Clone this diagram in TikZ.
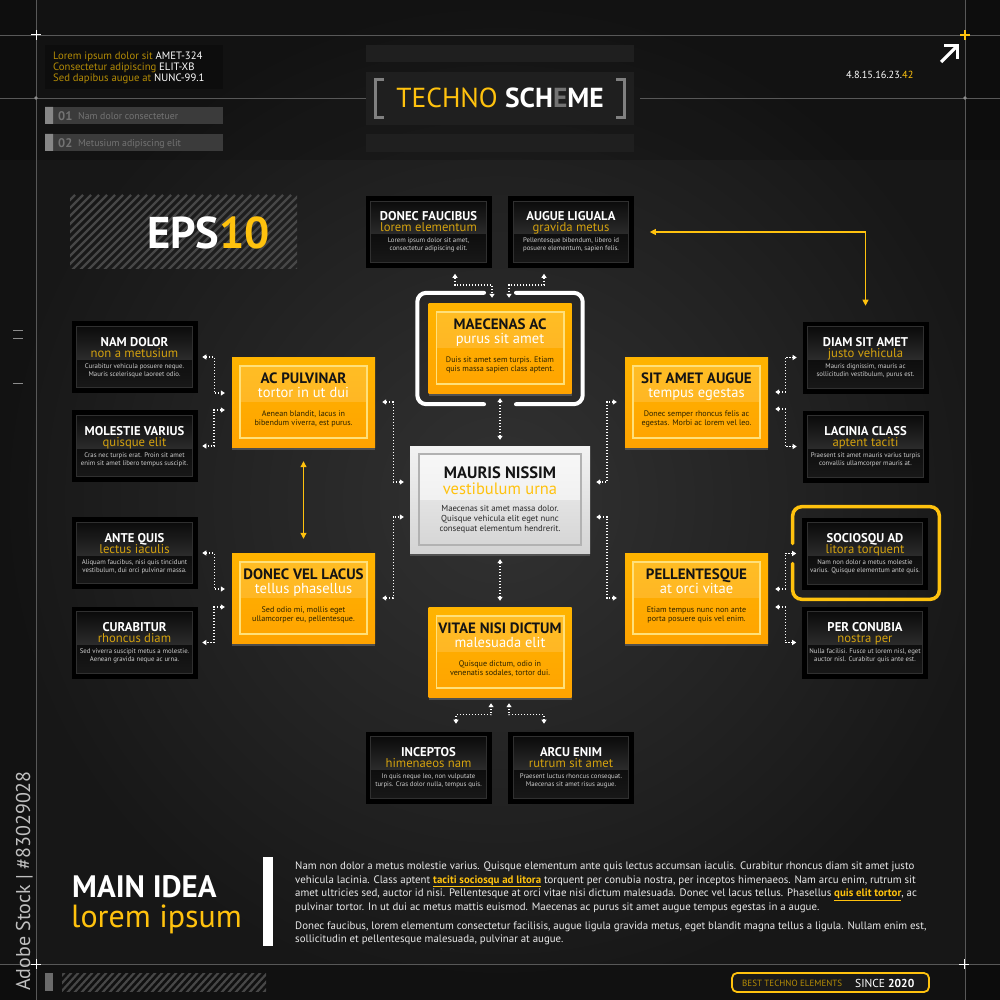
\documentclass[tikz,border=0pt]{standalone}
\usepackage{fontspec}
\setmainfont{PT Sans}
\usetikzlibrary{arrows.meta,calc,shadows}
\definecolor{bgin}{HTML}{323232}
\definecolor{bgout}{HTML}{171717}
\definecolor{gold}{HTML}{D4A20F}
\definecolor{goldd}{HTML}{B48C06}
\definecolor{yel}{HTML}{FFC20E}
\definecolor{ytop}{HTML}{FFB400}
\definecolor{ymid}{HTML}{FFC814}
\definecolor{ybot}{HTML}{FFA300}
\definecolor{yline}{HTML}{FFE07A}
\definecolor{guide}{HTML}{585858}
\definecolor{bodyg}{HTML}{CFCFCF}
\definecolor{hatchc}{HTML}{474747}
\definecolor{bbA}{HTML}{0B0B0B}
\definecolor{bbB}{HTML}{2C2C2C}
\definecolor{bbC}{HTML}{0E0E0E}
\definecolor{bbD}{HTML}{181818}
\definecolor{bbL}{HTML}{303030}
\definecolor{ybody}{HTML}{2B2200}
\newcommand{\lnk}[1]{\textcolor{yel}{\bfseries\underline{#1}}}
\tikzset{
  bbox/.style={fill=black, draw=black, line width=0.6pt, minimum width=125, minimum height=71, inner sep=0},
  ybox/.style={minimum width=143, minimum height=90, inner sep=0, top color=ytop, middle color=ymid, bottom color=ybot,
     drop shadow={shadow xshift=0pt, shadow yshift=-3pt, opacity=0.45}},
  wbox/.style={minimum width=180, minimum height=107, inner sep=0, top color=black!5, middle color=white, bottom color=black!17,
     drop shadow={shadow xshift=0pt, shadow yshift=-3pt, opacity=0.45}},
  txt/.style={inner sep=0, anchor=base},
  btitle/.style={txt, font=\fontsize{12.7}{12}\selectfont\bfseries, text=white},
  bsub/.style={txt, font=\fontsize{12.7}{12}\selectfont, text=gold},
  bbody/.style={txt, font=\fontsize{6.8}{7}\selectfont, text=bodyg},
  ytitle/.style={txt, font=\fontsize{15}{15}\selectfont\bfseries, text=black!92},
  ysub/.style={txt, font=\fontsize{14.5}{14}\selectfont, text=white},
  ybodyst/.style={txt, font=\fontsize{8.1}{8}\selectfont, text=ybody},
  conn/.style={draw=white, line width=1.4pt, dash pattern=on 1.4pt off 1.6pt, >={Triangle[length=4pt,width=5pt]}, <->},
  yconn/.style={draw=yel, line width=1.1pt, >={Triangle[length=6pt,width=6pt]}, <->},
  para/.style={inner sep=0, anchor=base west, font=\fontsize{10.85}{13}\selectfont, text=black!8},
}
\newcommand{\bbx}[7]{%
  \node[bbox] (#1) at (#2,#3) {};
  \shade[top color=bbA, bottom color=bbB] ([shift={(5pt,-5pt)}]#1.north west) rectangle ([shift={(-5pt,-3pt)}]#1.east);
  \shade[top color=bbC, bottom color=bbD] ([shift={(5pt,-3pt)}]#1.west) rectangle ([shift={(-5pt,5pt)}]#1.south east);
  \draw[bbL, line width=0.8pt] ([shift={(5pt,-5pt)}]#1.north west) rectangle ([shift={(-5pt,5pt)}]#1.south east);
  \node[btitle] (#1-t) at ([yshift=11pt]#1.center) {#4};
  \node[bsub] (#1-s) at (#1.center) {#5};
  \node[bbody] (#1-a) at ([yshift=-11pt]#1.center) {#6};
  \node[bbody] (#1-b) at ([yshift=-19pt]#1.center) {#7};
}
\newcommand{\ybx}[7]{%
  \node[ybox] (#1) at (#2,#3) {};
  \fill[white, opacity=0.14] ([shift={(8pt,-9pt)}]#1.north west) rectangle ([xshift=-8pt]#1.east);
  \draw[yline, line width=1.6pt] ([shift={(8pt,-9pt)}]#1.north west) rectangle ([shift={(-8pt,9pt)}]#1.south east);
  \node[ytitle] (#1-t) at ([yshift=18.5pt]#1.center) {#4};
  \node[ysub] (#1-s) at ([yshift=4.5pt]#1.center) {#5};
  \node[ybodyst] (#1-a) at ([yshift=-14pt]#1.center) {#6};
  \node[ybodyst] (#1-b) at ([yshift=-23.3pt]#1.center) {#7};
}
\begin{document}
\begin{tikzpicture}[x=1pt,y=-1pt]
\useasboundingbox (0,0) rectangle (1000,1000);
% background
\shade[inner color=bgin, outer color=bgout] (0,0) rectangle (1000,1000);
\fill[black, opacity=0.18] (0,0) rectangle (1000,160);
\fill[black, opacity=0.25] (0,964) rectangle (1000,1000);
\fill[black, opacity=0.2] (0,0) rectangle (36,1000);
\fill[black, opacity=0.25] (965,0) rectangle (1000,1000);
% guides
\draw[guide, line width=0.7pt] (0,35) -- (1000,35) (0,964) -- (1000,964) (36,0) -- (36,1000) (965,0) -- (965,1000)
  (0,98) -- (366,98) (640,98) -- (1000,98);
\fill[black!45] (36,98) circle (1.8) (965,98) circle (1.8);
\draw[white, line width=1pt] (31,35) -- (41,35) (36,30) -- (36,40) (31,964) -- (41,964) (36,959) -- (36,969)
  (959,964) -- (969,964) (964,959) -- (964,969);
\draw[yel, line width=1.2pt] (960,35) -- (970,35) (965,30) -- (965,40);
\draw[black!45, line width=1pt] (13,330) -- (23,330) (13,338.5) -- (23,338.5) (13,383) -- (23,383);
% top-left info
\node[fill=black!95, minimum width=178, minimum height=44, anchor=north west, inner sep=0] (info) at (45,45) {};
\node[inner sep=0, anchor=base west, font=\fontsize{10.7}{11}\selectfont, text=white] (info1) at (53,59.5) {\textcolor{goldd}{Lorem ipsum dolor sit} AMET-324};
\node[inner sep=0, anchor=base west, font=\fontsize{10.7}{11}\selectfont, text=white] (info2) at (53,70.8) {\textcolor{goldd}{Consectetur adipiscing} ELIT-XB};
\node[inner sep=0, anchor=base west, font=\fontsize{10.7}{11}\selectfont, text=white] (info3) at (53,82) {\textcolor{goldd}{Sed dapibus augue at} NUNC-99.1};
\node[fill=black!77, minimum width=178, minimum height=17, anchor=north west, inner sep=0] (bar1) at (45,107) {};
\node[fill=black!77, minimum width=178, minimum height=17, anchor=north west, inner sep=0] (bar2) at (45,134) {};
\fill[black!47] (45,107) rectangle (53,124) (45,134) rectangle (53,151);
\node[inner sep=0, anchor=base west, font=\fontsize{12.5}{12}\selectfont\bfseries, text=black!55] (n01) at (58,120.5) {01};
\node[inner sep=0, anchor=base west, font=\fontsize{9.8}{10}\selectfont, text=black!55] (t01) at (78,119.5) {Nam dolor consectetuer};
\node[inner sep=0, anchor=base west, font=\fontsize{12.5}{12}\selectfont\bfseries, text=black!55] (n02) at (58,147.5) {02};
\node[inner sep=0, anchor=base west, font=\fontsize{9.8}{10}\selectfont, text=black!55] (t02) at (78,146.5) {Metusium adipiscing elit};
% title
\node[fill=black!88, minimum width=268, minimum height=17, inner sep=0] (ttop) at (500,53.5) {};
\node[fill=black!88, minimum width=268, minimum height=53, inner sep=0] (tbox) at (500,98.5) {};
\node[fill=black!88, minimum width=268, minimum height=18, inner sep=0] (tbot) at (500,143) {};
\draw[black!50, line width=3pt] (384,79.5) -- (375.5,79.5) -- (375.5,117.5) -- (384,117.5);
\draw[black!50, line width=3pt] (616,79.5) -- (624.5,79.5) -- (624.5,117.5) -- (616,117.5);
\node[txt, font=\fontsize{27.5}{27}\selectfont] (title) at (500,108)
  {\textcolor{yel}{TECHNO} \textcolor{white}{\bfseries SCH}\textcolor{black!55}{\bfseries E}\textcolor{white}{\bfseries ME}};
% top right
\draw[white, line width=3.2pt] (941,62) -- (956.5,46.5);
\draw[white, line width=3.2pt, line join=miter] (944,45.5) -- (957.5,45.5) -- (957.5,59);
\node[inner sep=0, anchor=base west, font=\fontsize{10.3}{11}\selectfont, text=white] (nums) at (846,79) {4.8.15.16.23.\textcolor{yel}{42}};
% EPS hatch
\begin{scope}
\clip (70,195) rectangle (297,268);
\foreach \i in {-80,-72,...,300} \draw[hatchc, line width=2.2pt] (70+\i,272) -- (147+\i,195);
\end{scope}
\node[inner sep=0, anchor=base west, font=\fontsize{44.5}{44}\selectfont\bfseries, text=white] (eps) at (147,248) {EPS\textcolor{yel}{10}};
% boxes
\bbx{dfa}{428.5}{232}{DONEC FAUCIBUS}{lorem elementum}{Lorem ipsum dolor sit amet,}{consectetur adipiscing elit.}
\bbx{aug}{571}{232}{AUGUE LIGUALA}{gravida metus}{Pellentesque bibendum, libero id}{posuere elementum, sapien felis.}
\bbx{nam}{134.5}{357}{NAM DOLOR}{non a metusium}{Curabitur vehicula posuere neque.}{Mauris scelerisque laoreet odio.}
\bbx{mol}{134.5}{446}{MOLESTIE VARIUS}{quisque elit}{Cras nec turpis erat. Proin sit amet}{enim sit amet libero tempus suscipit.}
\bbx{ante}{134.5}{553}{ANTE QUIS}{lectus iaculis}{Aliquam faucibus, nisi quis tincidunt}{vestibulum, dui orci pulvinar massa.}
\bbx{cur}{134.5}{642.5}{CURABITUR}{rhoncus diam}{Sed viverra suscipit metus a molestie.}{Aenean gravida neque ac urna.}
\bbx{diam}{865.5}{357.5}{DIAM SIT AMET}{justo vehicula}{Mauris dignissim, mauris ac}{sollicitudin vestibulum, purus est.}
\bbx{lac}{865.5}{446.5}{LACINIA CLASS}{aptent taciti}{Praesent sit amet mauris varius turpis}{convallis ullamcorper mauris at.}
\bbx{soc}{865}{553.5}{SOCIOSQU AD}{litora torquent}{Nam non dolor a metus molestie}{varius. Quisque elementum ante quis.}
\bbx{per}{865}{642.5}{PER CONUBIA}{nostra per}{Nulla facilisi. Fusce ut lorem nisl, eget}{auctor nisl. Curabitur quis ante est.}
\bbx{inc}{428.5}{767.5}{INCEPTOS}{himenaeos nam}{In quis neque leo, non vulputate}{turpis. Cras dolor nulla, tempus quis.}
\bbx{arcu}{571}{767.5}{ARCU ENIM}{rutrum sit amet}{Praesent luctus rhoncus consequat.}{Maecenas sit amet risus augue.}
\ybx{mae}{500}{348}{MAECENAS AC}{purus sit amet}{Duis sit amet sem turpis. Etiam}{quis massa sapien class aptent.}
\ybx{acp}{303.5}{402}{AC PULVINAR}{tortor in ut dui}{Aenean blandit, lacus in}{bibendum viverra, est purus.}
\ybx{sit}{696.5}{402}{SIT AMET AUGUE}{tempus egestas}{Donec semper rhoncus felis ac}{egestas. Morbi ac lorem vel leo.}
\ybx{dvl}{303.5}{598}{DONEC VEL LACUS}{tellus phasellus}{Sed odio mi, mollis eget}{ullamcorper eu, pellentesque.}
\ybx{pel}{696.5}{598}{PELLENTESQUE}{at orci vitae}{Etiam tempus nunc non ante}{porta posuere quis vel enim.}
\ybx{vit}{500}{652}{VITAE NISI DICTUM}{malesuada elit}{Quisque dictum, odio in}{venenatis sodales, tortor dui.}
% center white box
\node[wbox] (mau) at (500,499.5) {};
\fill[white, opacity=0.5] ([shift={(9pt,-8pt)}]mau.north west) rectangle ([xshift=-9pt]mau.east);
\draw[black!30, line width=1.5pt] ([shift={(9pt,-8pt)}]mau.north west) rectangle ([shift={(-9pt,8pt)}]mau.south east);
\node[txt, font=\fontsize{16.5}{16}\selectfont\bfseries, text=black!92] (mau-t) at ([yshift=21pt]mau.center) {MAURIS NISSIM};
\node[txt, font=\fontsize{16.5}{16}\selectfont, text=yel] (mau-s) at ([yshift=5pt]mau.center) {vestibulum urna};
\node[txt, font=\fontsize{8.7}{9}\selectfont, text=black!85] (mau-a) at ([yshift=-11.5pt]mau.center) {Maecenas sit amet massa dolor.};
\node[txt, font=\fontsize{8.7}{9}\selectfont, text=black!85] (mau-b) at ([yshift=-21.8pt]mau.center) {Quisque vehicula elit eget nunc};
\node[txt, font=\fontsize{8.7}{9}\selectfont, text=black!85] (mau-c) at ([yshift=-32.2pt]mau.center) {consequat elementum hendrerit.};
% frames
\draw[white, line width=4pt, rounded corners=9pt, line cap=round] ([shift={(-16pt,10pt)}]mae.north) -| ([shift={(-11pt,-11pt)}]mae.south west) -- ([shift={(-16pt,-11pt)}]mae.south);
\draw[white, line width=4pt, rounded corners=9pt, line cap=round] ([shift={(16pt,10pt)}]mae.north) -| ([shift={(11pt,-11pt)}]mae.south east) -- ([shift={(16pt,-11pt)}]mae.south);
\draw[yel, line width=3.5pt, rounded corners=9pt, line cap=round] ([shift={(-9.5pt,10pt)}]soc.west) |- ([shift={(11.5pt,11pt)}]soc.north east) |- ([shift={(-9.5pt,-10pt)}]soc.south west) -- ([shift={(-9.5pt,-10pt)}]soc.west);
% dotted connectors
\draw[conn] ([xshift=5pt]nam.east) -- ++(12,0) |- ([shift={(-7pt,9pt)}]acp.west);
\draw[conn] ([shift={(-7pt,-8pt)}]acp.west) -- ++(-11,0) |- ([xshift=5pt]mol.east);
\draw[conn] ([xshift=5pt]ante.east) -- ++(12,0) |- ([shift={(-7pt,9pt)}]dvl.west);
\draw[conn] ([shift={(-7pt,-9pt)}]dvl.west) -- ++(-11,0) |- ([xshift=5pt]cur.east);
\draw[conn] ([shift={(7pt,10pt)}]sit.east) -- ++(10,0) |- ([xshift=-6pt]diam.west);
\draw[conn] ([shift={(7pt,-7pt)}]sit.east) -- ++(10,0) |- ([xshift=-6pt]lac.west);
\draw[conn] ([shift={(7pt,9pt)}]pel.east) -- ++(10,0) |- ([xshift=-6pt]soc.west);
\draw[conn] ([shift={(7pt,-9pt)}]pel.east) -- ++(10,0) |- ([xshift=-6pt]per.west);
\draw[conn] ([xshift=7pt]acp.east) -- ++(11,0) |- ([shift={(-6pt,17.5pt)}]mau.west);
\draw[conn] ([xshift=7pt]dvl.east) -- ++(11,0) |- ([shift={(-6pt,-17.5pt)}]mau.west);
\draw[conn] ([xshift=-8pt]sit.west) -- ++(-10,0) |- ([shift={(6pt,17.5pt)}]mau.east);
\draw[conn] ([xshift=-8pt]pel.west) -- ++(-10,0) |- ([shift={(6pt,-17.5pt)}]mau.east);
\draw[conn] ([shift={(26.5pt,-6pt)}]dfa.south) -- ++(0,11) -| ([shift={(-8pt,5pt)}]mae.north);
\draw[conn] ([shift={(-27pt,-6pt)}]aug.south) -- ++(0,11) -| ([shift={(9pt,5pt)}]mae.north);
\draw[conn] ([shift={(27.5pt,8pt)}]inc.north) -- ++(0,-9) -| ([shift={(-9pt,-6pt)}]vit.south);
\draw[conn] ([shift={(-27pt,8pt)}]arcu.north) -- ++(0,-9) -| ([shift={(9pt,-6pt)}]vit.south);
\draw[conn] ([yshift=-5pt]mae.south) -- ([yshift=6pt]mau.north);
\draw[conn] ([yshift=-6pt]mau.south) -- ([yshift=6pt]vit.north);
% yellow connectors
\draw[yconn] ([yshift=-14pt]acp.south) -- ([yshift=14pt]dvl.north);
\draw[yconn] ([xshift=16pt]aug.east) -| ([yshift=16pt]diam.north);
% bottom section
\node[inner sep=0, anchor=base west, font=\fontsize{31}{31}\selectfont\bfseries, text=white] (main) at (72,897) {MAIN IDEA};
\node[inner sep=0, anchor=base west, font=\fontsize{32}{32}\selectfont, text=yel] (lorem) at (71,927) {lorem ipsum};
\fill[white] (263,857) rectangle (272.5,946);
\node[para] (p1) at (295,869) {Nam non dolor a metus molestie varius. Quisque elementum ante quis lectus accumsan iaculis. Curabitur rhoncus diam sit amet justo};
\node[para] (p2) at (295,883) {vehicula lacinia. Class aptent \lnk{taciti sociosqu ad litora} torquent per conubia nostra, per inceptos himenaeos. Nam arcu enim, rutrum sit};
\node[para] (p3) at (295,896.5) {amet ultricies sed, auctor id nisi. Pellentesque at orci vitae nisi dictum malesuada. Donec vel lacus tellus. Phasellus \lnk{quis elit tortor}, ac};
\node[para] (p4) at (295,910) {pulvinar tortor. In ut dui ac metus mattis euismod. Maecenas ac purus sit amet augue tempus egestas in a augue.};
\node[para] (p5) at (295,929) {Donec faucibus, lorem elementum consectetur facilisis, augue ligula gravida metus, eget blandit magna tellus a ligula. Nullam enim est,};
\node[para] (p6) at (295,942.5) {sollicitudin et pellentesque malesuada, pulvinar at augue.};
% footer
\fill[black!58] (45,973) rectangle (53,991);
\begin{scope}
\clip (62,973) rectangle (266,991);
\foreach \i in {-30,-23,...,210} \draw[hatchc, line width=2.2pt] (62+\i,993) -- (82+\i,971);
\end{scope}
\node[draw=yel, line width=1.8pt, rounded corners=5pt, fill=black!90, minimum width=197, minimum height=19, inner sep=0] (badge) at (830.5,982.5) {};
\node[inner sep=0, anchor=base west, font=\fontsize{9}{9}\selectfont, text=goldd] (best) at (742,986.5) {BEST TECHNO ELEMENTS};
\node[inner sep=0, anchor=base west, font=\fontsize{11.5}{11}\selectfont, text=white] (since) at (855,987) {SINCE \textbf{2020}};
% side label
\node[inner sep=0, anchor=base west, rotate=90, font=\fontsize{20}{20}\selectfont, text=black!25] (stock) at (30,991) {Adobe Stock | \#83029028};
\end{tikzpicture}
\end{document}
